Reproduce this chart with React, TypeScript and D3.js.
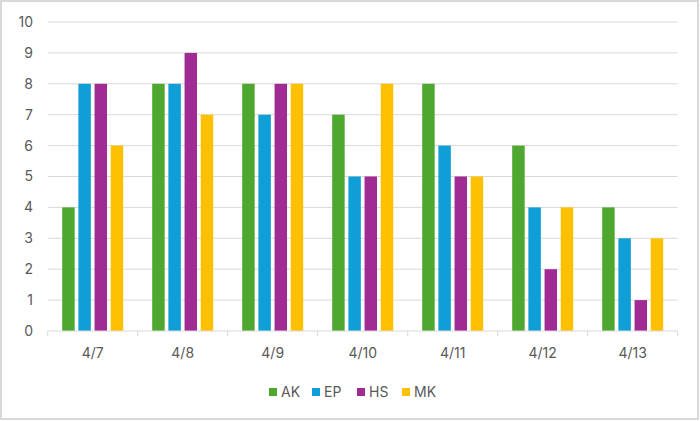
import React from 'react'
import * as d3 from 'd3';

const days: string[] = ['4/7', '4/8', '4/9', '4/10', '4/11', '4/12', '4/13'];
const people: string[] = ['AK', 'EP', 'HS', 'MK'];
const akValues: number[] = [4, 8, 8, 7, 8, 6, 4];
const epValues: number[] = [8, 8, 7, 5, 6, 4, 3];
const hsValues: number[] = [8, 9, 8, 5, 5, 2, 1];
const mkValues: number[] = [6, 7, 8, 8, 5, 4, 3];
const yTicks: number[] = [0, 1, 2, 3, 4, 5, 6, 7, 8, 9, 10];

const seriesValues: number[][] = [akValues, epValues, hsValues, mkValues];
const colors = ['#4EA72E', '#0F9ED5', '#A02B93', '#FFC000'];

const App: React.FC = () => {
  const width = 700;
  const height = 421;
  const left = 47.7;
  const right = 677.7;
  const top = 22;
  const bottom = 331;
  const font = 'Inter, "Noto Sans", sans-serif';
  const textColor = '#595959';
  const gridColor = '#d9d9d9';

  const x = d3.scaleBand<string>().domain(days).range([left, right]).padding(0);
  const inner = d3.scaleBand<string>()
    .domain(people)
    .range([14.5, x.bandwidth() - 14.5])
    .paddingInner(0.23);
  const y = d3.scaleLinear().domain([0, 10]).range([bottom, top]);

  const color = d3.scaleOrdinal<string, string>().domain(people).range(colors);

  const legendX = [269, 312, 357, 402];

  return (
    <svg width={width} height={height} style={{ position: 'absolute', left: 0, top: 0 }}>
      <rect x={1} y={1} width={width - 3} height={height - 3} fill='#fff' stroke={gridColor} strokeWidth={2} />
      {yTicks.map(t => (
        <g key={t}>
          {t > 0 && (
            <line x1={left} x2={right} y1={y(t)} y2={y(t)} stroke={gridColor} strokeWidth={1} />
          )}
          <text
            x={33}
            y={y(t)}
            dy='0.35em'
            textAnchor='end'
            fontFamily={font}
            fontSize={14}
            fill={textColor}
          >
            {t}
          </text>
        </g>
      ))}
      {days.map((day, i) => (
        <g key={day} transform={`translate(${x(day)},0)`}>
          {people.map((p, j) => (
            <rect
              key={p}
              x={inner(p)}
              y={y(seriesValues[j][i])}
              width={inner.bandwidth()}
              height={y(0) - y(seriesValues[j][i])}
              fill={color(p)}
            />
          ))}
          <text
            x={x.bandwidth() / 2}
            y={353}
            dy='0.35em'
            textAnchor='middle'
            fontFamily={font}
            fontSize={14}
            fill={textColor}
          >
            {day}
          </text>
        </g>
      ))}
      <line x1={left} x2={right} y1={bottom} y2={bottom} stroke={gridColor} strokeWidth={1} />
      {[...days.map(d => x(d) as number), right].map((tx, i) => (
        <line key={i} x1={tx} x2={tx} y1={bottom} y2={bottom + 5} stroke={gridColor} strokeWidth={1} />
      ))}
      {people.map((p, i) => (
        <g key={p} transform={`translate(${legendX[i]},392)`}>
          <rect x={0} y={-4} width={8} height={8} fill={color(p)} />
          <text x={12} y={0} dy='0.35em' fontFamily={font} fontSize={14} fill={textColor}>
            {p}
          </text>
        </g>
      ))}
    </svg>
  )
}

export default App
